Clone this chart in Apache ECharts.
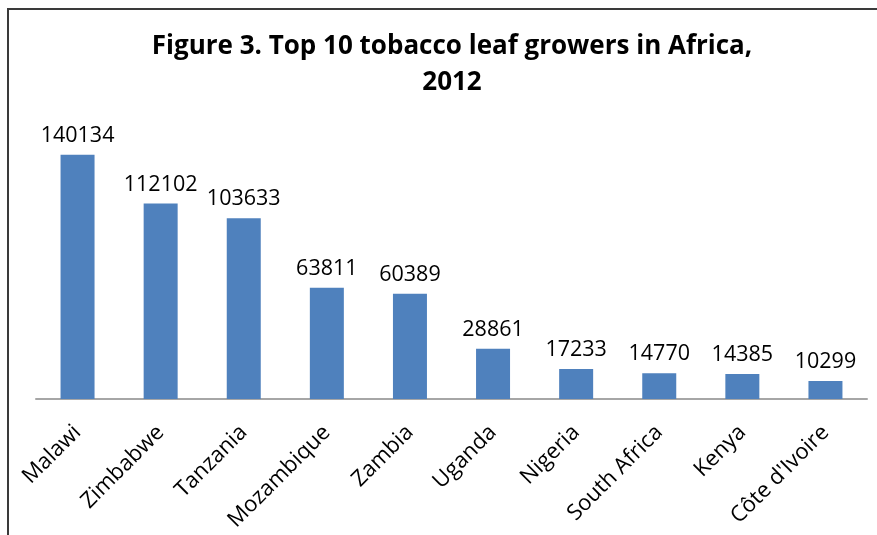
<!DOCTYPE html>
<html><head><meta charset="utf-8">
<script src="https://cdn.jsdelivr.net/npm/echarts@6/dist/echarts.min.js"></script>
<style>html,body{margin:0;padding:0;background:#fff}#c{width:877px;height:535px}</style>
</head><body><div id="c"></div>
<script>
const categories = ["Malawi","Zimbabwe","Tanzania","Mozambique","Zambia","Uganda","Nigeria","South Africa","Kenya","Côte d'Ivoire"];
const values = [140134,112102,103633,63811,60389,28861,17233,14770,14385,10299];
const titleText = "Figure 3. Top 10 tobacco leaf growers in Africa,\n2012";

const chart = echarts.init(document.getElementById('c'));
chart.setOption({
  animation: false,
  backgroundColor: '#fff',
  title: {
    text: titleText,
    left: 447, textAlign: 'center', top: 24,
    textStyle: {fontFamily: 'Open Sans', fontWeight: 'bold', fontSize: 26, lineHeight: 36, color: '#000'}
  },
  graphic: [
    {type: 'line', silent: true, shape: {x1: 8, y1: 8, x2: 8, y2: 535}, style: {stroke: '#3a3a3a', lineWidth: 2}},
    {type: 'line', silent: true, shape: {x1: 7, y1: 9, x2: 877, y2: 9}, style: {stroke: '#3a3a3a', lineWidth: 2}}
  ],
  grid: {left: 36, right: 10, top: 120, bottom: 136, containLabel: false},
  xAxis: {
    type: 'category', data: categories,
    axisLine: {lineStyle: {color: '#a6a6a6', width: 2}},
    axisTick: {show: false},
    axisLabel: {rotate: 45, interval: 0, margin: 30, fontFamily: 'Open Sans', fontSize: 22, color: '#000'}
  },
  yAxis: {type: 'value', min: 0, max: 160000, show: false, splitLine: {show: false}},
  series: [{
    type: 'bar', data: values, barWidth: 34,
    itemStyle: {color: '#4f81bd'},
    label: {show: true, position: 'top', distance: 8, fontFamily: 'Open Sans', fontSize: 21.5, color: '#000'}
  }]
});
</script></body></html>
